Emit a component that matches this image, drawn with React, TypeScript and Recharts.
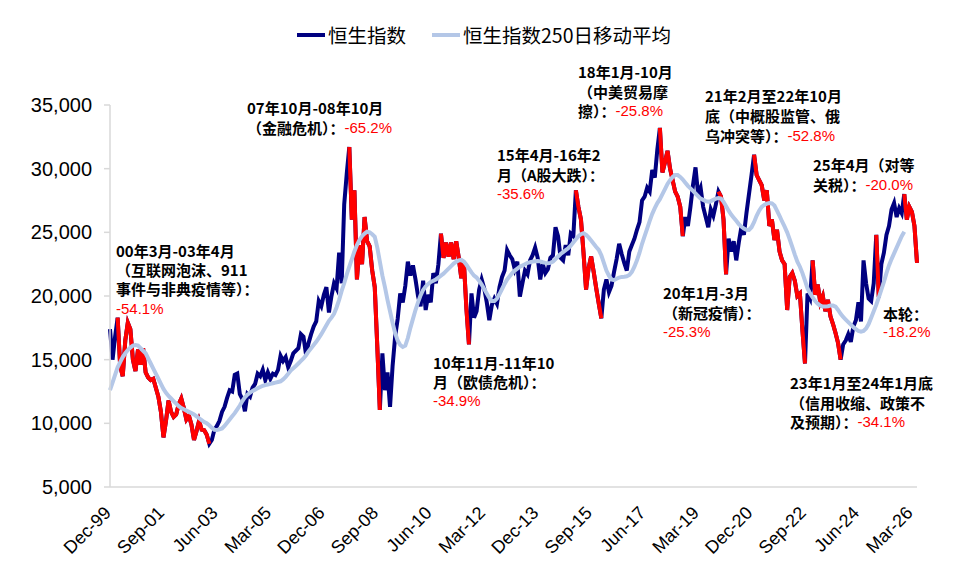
import React from "react";
import { LineChart, Line, XAxis, YAxis, Legend } from "recharts";

const MONTHS = ["Jan", "Feb", "Mar", "Apr", "May", "Jun", "Jul", "Aug", "Sep", "Oct", "Nov", "Dec"];

// 恒生指数，月度取值（Dec-99 起）
const hsi: number[] = [
  17400, // 1999-12
  15000, 16800, 18300, 14500, 13700, 16500, 17900, 17400, 15000, 14100, 15800, 14600, // 2000
  15900, 14000, 13600, 13400, 13500, 12800, 12100, 10900, 8900, 10200, 11800, 10900, // 2001
  10500, 10700, 11500, 11950, 11200, 10300, 10600, 9900, 8700, 9400, 10200, 9500, // 2002
  9450, 9100, 8400, 8700, 9500, 9800, 10200, 10900, 11300, 12000, 12600, 12500, // 2003
  13800, 13900, 12300, 11900, 10950, 12300, 12100, 12800, 13100, 13900, 13700, 14200, // 2004
  13400, 14000, 13500, 13900, 13800, 14200, 15300, 14900, 15200, 14400, 14900, 15500, // 2005
  15700, 15900, 17000, 16800, 15400, 16300, 17000, 17600, 18000, 19600, 19200, 20100, // 2006
  20700, 18700, 20000, 21000, 20600, 23400, 21000, 27200, 29600, 31700, 26000, 28300, // 2007
  21300, 24000, 22500, 26200, 24300, 23900, 22000, 20700, 16000, 11050, 15500, 12600, // 2008
  14000, 11300, 14500, 16800, 18200, 20200, 19500, 20800, 22700, 21600, 22400, 21300, // 2009
  20000, 19200, 21200, 18900, 20100, 19500, 21800, 21000, 22500, 24900, 23000, 24200, // 2010
  23100, 24200, 22900, 24300, 23000, 21400, 22700, 19000, 16200, 20200, 18300, 18800, // 2011
  20500, 21300, 20600, 19500, 18100, 19300, 19800, 19400, 20700, 21500, 22000, 23600, // 2012
  23200, 22900, 22100, 22700, 19950, 21000, 22000, 21700, 22800, 23200, 23800, 23000, // 2013
  21300, 22500, 21800, 22100, 23000, 23200, 25400, 24700, 23000, 22800, 24000, 23200, // 2014
  24900, 24700, 28300, 27000, 26000, 23400, 20500, 22200, 23100, 21900, 20600, 19400, // 2015
  18250, 20500, 21300, 20300, 20800, 21900, 22900, 24100, 23300, 22600, 22000, 23500, // 2016
  24000, 24500, 25200, 25800, 27500, 27800, 28500, 28200, 29900, 29300, 31500, 33200, // 2017
  29700, 30500, 31400, 30000, 29100, 28200, 27800, 27000, 24700, 26200, 25500, 27000, // 2018
  28700, 30100, 28000, 28500, 27000, 26200, 25400, 26800, 26300, 27200, 28200, 27800, // 2019
  26000, 21700, 24500, 23500, 24300, 22800, 24200, 25400, 24800, 26500, 28000, 29500, // 2020
  31100, 29500, 29100, 28700, 27500, 28300, 25500, 26000, 24400, 25200, 23500, 22800, // 2021
  22500, 18900, 21500, 21800, 21200, 20000, 20200, 17300, 14700, 20200, 19800, 22800, // 2022
  20100, 20900, 19500, 20000, 18800, 19700, 18400, 17800, 17100, 16300, 15000, 16200, // 2023
  16500, 17000, 16400, 17600, 18100, 19500, 18000, 22800, 21000, 19800, 19600, 21000, // 2024
  24800, 19900, 22500, 23400, 24800, 25500, 26800, 27300, 26200, 26900, 26500, 28000, // 2025
  26000, 27000, 26600, 25500, 22600, // 2026
];

// 恒生指数250日移动平均
const ma250: (number | null)[] = [
  12600,
  13200, 13800, 14400, 14800, 15200, 15500, 15750, 15950, 16100, 16150, 16100, 15900,
  15700, 15500, 15100, 14700, 14300, 13900, 13500, 13100, 12700, 12400, 12150, 11950,
  11750, 11550, 11350, 11200, 11100, 11000, 10900, 10800, 10700, 10550, 10400, 10250,
  10100, 10000, 9850, 9650, 9500, 9480, 9520, 9600, 9800, 10050, 10300, 10550,
  10800, 11100, 11400, 11750, 12050, 12250, 12400, 12550, 12650, 12750, 12850, 12950,
  13010, 13050, 13100, 13150, 13200, 13250, 13300, 13450, 13650, 13900, 14150, 14320,
  14500, 14700, 14900, 15100, 15350, 15650, 15900, 16150, 16400, 16700, 17000, 17350,
  17700, 18050, 18300, 18600, 19100, 19700, 20400, 21000, 21700, 22300, 22900, 23500,
  24000, 24400, 24700, 24900, 25050, 25000, 24850, 24650, 23800, 22700, 21600, 20700,
  19700, 18800, 17900, 17100, 16500, 16150, 16000, 16100, 16700, 17500, 18200, 18900,
  19500, 20050, 20470, 20750, 20950, 21100, 21200, 21300, 21450, 21600, 21750, 21950,
  22150, 22350, 22550, 22700, 22800, 22830, 22700, 22450, 22150, 21850, 21600, 21450,
  21200, 20900, 20550, 20200, 19850, 19600, 19600, 19800, 20150, 20550, 20950, 21300,
  21550, 21800, 22000, 22150, 22300, 22400, 22500, 22600, 22650, 22700, 22720, 22740,
  22720, 22650, 22600, 22580, 22600, 22700, 22900, 23100, 23300, 23450, 23600, 23750,
  23950, 24200, 24450, 24700, 24850, 24930, 24800, 24600, 24350, 24100, 23850, 23620,
  23200, 22600, 22000, 21600, 21300, 21250, 21350, 21450, 21500, 21520, 21550, 21650,
  21900, 22300, 22800, 23400, 24100, 24700, 25300, 25900, 26450, 26900, 27300, 27600,
  28000, 28400, 28800, 29100, 29350, 29500, 29500, 29350, 29150, 28900, 28650, 28450,
  28250, 28050, 27850, 27650, 27550, 27450, 27400, 27450, 27550, 27650, 27700, 27650,
  27400, 27050, 26700, 26400, 26150, 25900, 25650, 25450, 25300, 25200, 25190, 25400,
  25800, 26300, 26700, 27000, 27150, 27250, 27300, 27280, 27100, 26700, 26300, 25850,
  25450, 25000, 24450, 23850, 23250, 22700, 22300, 21800, 21200, 20600, 20200, 19900,
  19600, 19400, 19250, 19170, 19170, 19200, 19250, 19250, 19170, 18900, 18600, 18350,
  18150, 17950, 17750, 17550, 17400, 17250, 17200, 17250, 17450, 17800, 18300, 18800,
  19300, 19900, 20500, 21100, 21800, 22400, 22900, 23350, 23800, 24250, 24700, 25050,
  null, null, null, null, null,
];

// 回撤区间（月序号，起止均含）
const drawdowns: [number, number][] = [
  [3, 39], [94, 106], [130, 141], [183, 193], [216, 225],
  [239, 242], [253, 273], [276, 287], [301, 302], [312, 317],
];

const yTicks = [5000, 10000, 15000, 20000, 25000, 30000, 35000];

const legendItems = [
  { name: "恒生指数", color: "#000080" },
  { name: "恒生指数250日移动平均", color: "#B4C7E7" },
];

type Part = { t: string; red?: boolean };
const notes: { x: number; y: number; step: number; lines: Part[][] }[] = [
  { x: 116, y: 250, step: 19.2, lines: [[{ t: "00年3月-03年4月" }], [{ t: "（互联网泡沫、911" }], [{ t: "事件与非典疫情等）：" }], [{ t: "-54.1%", red: true }]] },
  { x: 247, y: 107, step: 20, lines: [[{ t: "07年10月-08年10月" }], [{ t: "（金融危机）：" }, { t: "-65.2%", red: true }]] },
  { x: 433, y: 362, step: 19, lines: [[{ t: "10年11月-11年10" }], [{ t: "月（欧债危机）：" }], [{ t: "-34.9%", red: true }]] },
  { x: 497, y: 154, step: 19.5, lines: [[{ t: "15年4月-16年2" }], [{ t: "月（A股大跌）：" }], [{ t: "-35.6%", red: true }]] },
  { x: 578, y: 71, step: 19.7, lines: [[{ t: "18年1月-10月" }], [{ t: "（中美贸易摩" }], [{ t: "擦）：" }, { t: "-25.8%", red: true }]] },
  { x: 705, y: 95, step: 20.2, lines: [[{ t: "21年2月至22年10月" }], [{ t: "底（中概股监管、俄" }], [{ t: "乌冲突等）：" }, { t: "-52.8%", red: true }]] },
  { x: 663, y: 292, step: 19.5, lines: [[{ t: "20年1月-3月" }], [{ t: "（新冠疫情）：" }], [{ t: "-25.3%", red: true }]] },
  { x: 790, y: 382, step: 19.5, lines: [[{ t: "23年1月至24年1月底" }], [{ t: "（信用收缩、政策不" }], [{ t: "及预期）：" }, { t: "-34.1%", red: true }]] },
  { x: 813, y: 164, step: 20, lines: [[{ t: "25年4月（对等" }], [{ t: "关税）：" }, { t: "-20.0%", red: true }]] },
  { x: 883, y: 313, step: 18, lines: [[{ t: "本轮：" }], [{ t: "-18.2%", red: true }]] },
];

const monthLabel = (i: number) => {
  const m = (11 + i) % 12;
  const y = 1999 + Math.floor((11 + i) / 12);
  return `${MONTHS[m]}-${String(y % 100).padStart(2, "0")}`;
};

const inDrawdown = (i: number) => drawdowns.some(([s, e]) => i >= s && i <= e);

const data = hsi.map((v, i) => ({
  label: monthLabel(i),
  hsi: v,
  down: inDrawdown(i) ? v : null,
  ma: ma250[i] ?? null,
}));

const CJK = '"Noto Sans CJK SC", "Noto Sans", sans-serif';
const LATIN = '"Liberation Sans", Arial, sans-serif';

const XTick = (props: any) => {
  const { x, y, payload } = props;
  const ax = x + 2;
  const ay = y + 27;
  return (
    <text x={ax} y={ay} textAnchor="end" transform={`rotate(-45, ${ax}, ${ay})`} fontSize={18} fontFamily={LATIN} fill="#000">
      {payload.value}
    </text>
  );
};

const LegendBox = () => (
  <div style={{ display: "flex", alignItems: "center", paddingLeft: 297, fontFamily: CJK, fontSize: 19.5, color: "#000" }}>
    {legendItems.map((it, k) => (
      <div key={it.name} style={{ display: "flex", alignItems: "center", marginRight: k === 0 ? 26 : 0 }}>
        <span style={{ display: "inline-block", width: 28, height: 4, background: it.color, marginRight: 3 }} />
        <span>{it.name}</span>
      </div>
    ))}
  </div>
);

export default function App() {
  return (
    <div style={{ position: "absolute", left: 0, top: 0, width: 956, height: 581, background: "#fff" }}>
      <LineChart width={956} height={581} data={data} margin={{ top: 105, right: 39, left: 0, bottom: 0 }}>
        <XAxis
          dataKey="label"
          interval={20}
          tick={<XTick />}
          tickLine={false}
          tickSize={0}
          tickMargin={0}
          height={94}
          axisLine={{ stroke: "#D9D9D9", strokeWidth: 1.5 }}
        />
        <YAxis
          type="number"
          domain={[5000, 35000]}
          ticks={yTicks}
          width={110}
          tickSize={6}
          tickMargin={12}
          tickFormatter={(v: number) => v.toLocaleString("en-US")}
          tick={{ fontSize: 20, fontFamily: LATIN, fill: "#000" }}
          axisLine={{ stroke: "#D9D9D9", strokeWidth: 1.5 }}
          tickLine={{ stroke: "#D9D9D9", strokeWidth: 1.5 }}
        />
        <Legend
          layout="horizontal"
          verticalAlign="middle"
          align="center"
          content={<LegendBox />}
          wrapperStyle={{ top: 20, left: 0, width: 956 }}
        />
        <Line dataKey="hsi" name="恒生指数" stroke="#000080" strokeWidth={4} dot={false} isAnimationActive={false} />
        <Line dataKey="down" legendType="none" stroke="#FF0000" strokeWidth={4} dot={false} isAnimationActive={false} />
        <Line dataKey="ma" name="恒生指数250日移动平均" stroke="#B4C7E7" strokeWidth={4} dot={false} isAnimationActive={false} />
      </LineChart>
      <svg width={956} height={581} style={{ position: "absolute", left: 0, top: 0, pointerEvents: "none" }}>
        {notes.map((n, i) => (
          <g key={i}>
            {n.lines.map((line, j) => (
              <text key={j} x={n.x} y={n.y + j * n.step} dominantBaseline="central">
                {line.map((p, k) =>
                  p.red ? (
                    <tspan key={k} fill="#FF0000" fontFamily={LATIN} fontSize={15}>{p.t}</tspan>
                  ) : (
                    <tspan key={k} fill="#000" fontFamily={CJK} fontSize={15} fontWeight="bold">{p.t}</tspan>
                  )
                )}
              </text>
            ))}
          </g>
        ))}
      </svg>
    </div>
  );
}
